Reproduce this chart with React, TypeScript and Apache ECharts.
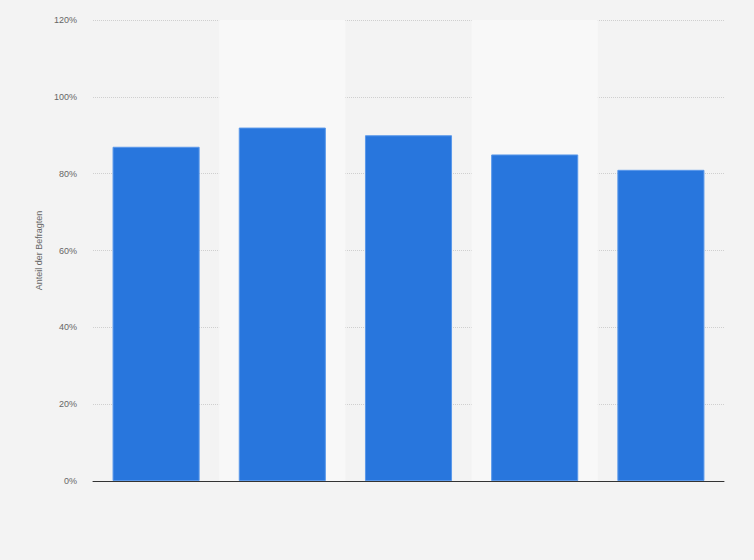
import React, { useEffect, useRef } from "react";
import * as echarts from "echarts";

const categories: string[] = ["1", "2", "3", "4", "5"];
const shares: number[] = [87, 92, 90, 85, 81];
const yTicks: number[] = [0, 20, 40, 60, 80, 100, 120];

const BAR_COLOR = "#2876dd";
const FONT_COLOR = "#666666";

const App: React.FC = () => {
  const chartRef = useRef<HTMLDivElement>(null);

  useEffect(() => {
    document.body.style.margin = "0";
    let myChart: echarts.ECharts | null = null;

    if (chartRef.current) {
      myChart = echarts.init(chartRef.current, undefined, { renderer: "svg" });
      myChart.setOption({
        animation: false,
        backgroundColor: "#f3f3f3",
        grid: { left: 93, right: 30, top: 20, bottom: 79 },
        xAxis: {
          type: "category",
          data: categories,
          axisLine: { show: true, lineStyle: { color: "#333333", width: 1 } },
          axisTick: { show: false },
          axisLabel: { show: false },
          splitArea: {
            show: true,
            areaStyle: { color: ["rgba(0,0,0,0)", "#f8f8f8"] },
          },
        },
        yAxis: {
          type: "value",
          min: yTicks[0],
          max: yTicks[yTicks.length - 1],
          interval: 20,
          name: "Anteil der Befragten",
          nameLocation: "middle",
          nameGap: 50,
          nameRotate: 90,
          nameTextStyle: { color: FONT_COLOR, fontSize: 9, fontFamily: "Arial, Liberation Sans" },
          axisLine: { show: false },
          axisTick: { show: false },
          axisLabel: {
            color: FONT_COLOR,
            fontSize: 9,
            fontFamily: "Arial, Liberation Sans",
            margin: 16,
            formatter: (v: number) => v + "%",
          },
          splitLine: {
            show: true,
            lineStyle: { color: "#cfcfcf", type: "dotted", width: 1 },
          },
        },
        series: [
          {
            type: "bar",
            data: shares,
            barCategoryGap: "31%",
            itemStyle: { color: BAR_COLOR, borderColor: "#5a98ea", borderWidth: 1 },
          },
        ],
      });
    }

    return () => {
      if (myChart !== null) {
        myChart.dispose();
      }
    };
  }, []);

  return <div ref={chartRef} style={{ width: "754px", height: "560px" }} />;
};

export default App;
